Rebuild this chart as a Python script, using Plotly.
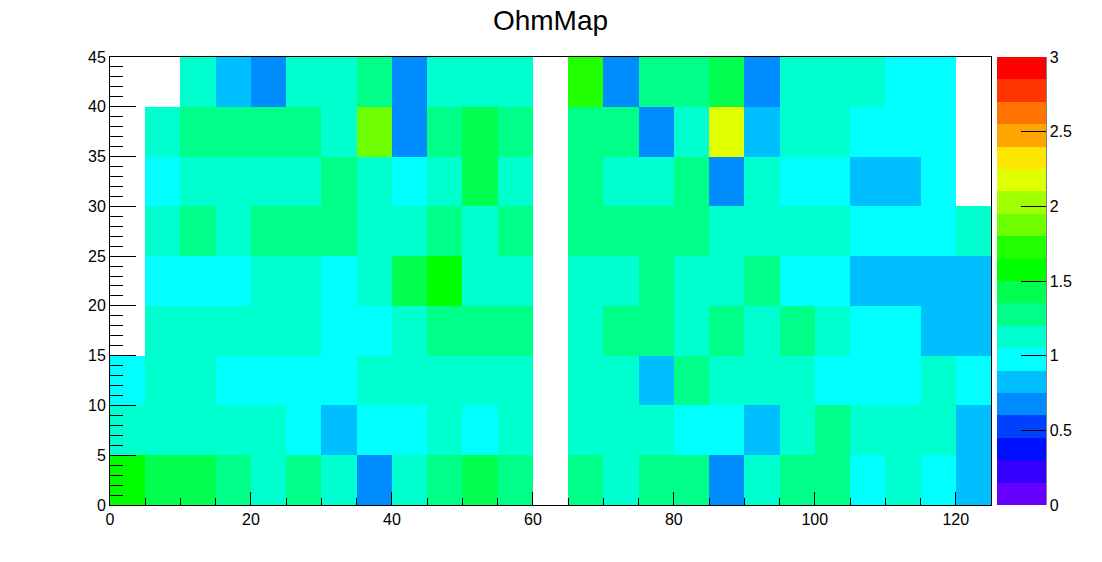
import plotly.graph_objects as go

# ---- data ----
x_centers = [2.5 + 5 * i for i in range(25)]
y_centers = [2.5 + 5 * j for j in range(9)]

N = None
# resistance values per bin, rows from y=0-5 (bottom) to y=40-45 (top)
row_00_05 = [1.57, 1.42, 1.42, 1.27, 1.12, 1.27, 1.12, 0.68, 1.12, 1.27, 1.42, 1.27, N, 1.27, 1.12, 1.27, 1.27, 0.68, 1.12, 1.27, 1.27, 0.98, 1.12, 0.98, 0.83]
row_05_10 = [1.12, 1.12, 1.12, 1.12, 1.12, 0.98, 0.83, 0.98, 0.98, 1.12, 0.98, 1.12, N, 1.12, 1.12, 1.12, 0.98, 0.98, 0.83, 1.12, 1.27, 1.12, 1.12, 1.12, 0.83]
row_10_15 = [0.98, 1.12, 1.12, 0.98, 0.98, 0.98, 0.98, 1.12, 1.12, 1.12, 1.12, 1.12, N, 1.12, 1.12, 0.83, 1.27, 1.12, 1.12, 1.12, 0.98, 0.98, 0.98, 1.12, 0.98]
row_15_20 = [N, 1.12, 1.12, 1.12, 1.12, 1.12, 0.98, 0.98, 1.12, 1.27, 1.27, 1.27, N, 1.12, 1.27, 1.27, 1.12, 1.27, 1.12, 1.27, 1.12, 0.98, 0.98, 0.83, 0.83]
row_20_25 = [N, 0.98, 0.98, 0.98, 1.12, 1.12, 0.98, 1.12, 1.42, 1.57, 1.12, 1.12, N, 1.12, 1.12, 1.27, 1.12, 1.12, 1.27, 0.98, 0.98, 0.83, 0.83, 0.83, 0.83]
row_25_30 = [N, 1.12, 1.27, 1.12, 1.27, 1.27, 1.27, 1.12, 1.12, 1.27, 1.12, 1.27, N, 1.27, 1.27, 1.27, 1.27, 1.12, 1.12, 1.12, 1.12, 0.98, 0.98, 0.98, 1.12]
row_30_35 = [N, 0.98, 1.12, 1.12, 1.12, 1.12, 1.27, 1.12, 0.98, 1.12, 1.42, 1.12, N, 1.27, 1.12, 1.12, 1.27, 0.68, 1.12, 0.98, 0.98, 0.83, 0.83, 0.98, N]
row_35_40 = [N, 1.12, 1.27, 1.27, 1.27, 1.27, 1.12, 1.87, 0.68, 1.27, 1.42, 1.27, N, 1.27, 1.27, 0.68, 1.12, 2.18, 0.83, 1.12, 1.12, 0.98, 0.98, 0.98, N]
row_40_45 = [N, N, 1.12, 0.83, 0.68, 1.12, 1.12, 1.27, 0.68, 1.12, 1.12, 1.12, N, 1.72, 0.68, 1.27, 1.27, 1.42, 0.68, 1.12, 1.12, 1.12, 0.98, 0.98, N]

z_rows = [row_00_05, row_05_10, row_10_15, row_15_20, row_20_25,
          row_25_30, row_30_35, row_35_40, row_40_45]

cbar_tickvals = [0, 0.5, 1, 1.5, 2, 2.5, 3]
cbar_ticktext = ["0", "0.5", "1", "1.5", "2", "2.5", "3"]

palette = ["#6600ff", "#3300ff", "#0010ff", "#0040ff", "#008cff",
           "#00bfff", "#00ffff", "#00ffcf", "#00ff88", "#00ff4f",
           "#00ff00", "#22ff00", "#70ff00", "#a0ff00", "#e0ff00",
           "#ffe600", "#ffa500", "#ff7300", "#ff3300", "#ff0000"]

# ---- figure ----
n = len(palette)
colorscale = []
for i, c in enumerate(palette):
    colorscale.append([i / n, c])
    colorscale.append([(i + 1) / n, c])

W, H = 1102, 562
L, T = 110, 57
R = W - 991
B = H - 505
pw = W - L - R

FONT = "Liberation Sans, Arial, Helvetica, sans-serif"

fig = go.Figure(go.Heatmap(
    x=x_centers, y=y_centers, z=z_rows,
    zmin=0, zmax=3, colorscale=colorscale,
    hoverongaps=False,
    colorbar=dict(
        x=(997 - L) / pw, xanchor="left", xpad=0,
        y=0.5, yanchor="middle", len=1, lenmode="fraction", ypad=0,
        thickness=49, outlinewidth=0,
        tickmode="array", tickvals=cbar_tickvals, ticktext=cbar_ticktext,
        ticks="inside", ticklen=25, tickwidth=1, tickcolor="black",
        tickfont=dict(family=FONT, size=16, color="black"),
    ),
))

fig.add_shape(type="line", xref="paper", yref="paper",
              x0=(1046 - L) / pw, x1=(1046 - L) / pw, y0=0, y1=1,
              line=dict(color="black", width=1))

fig.update_layout(
    width=W, height=H,
    margin=dict(l=L, r=R, t=T, b=B, autoexpand=False),
    paper_bgcolor="white", plot_bgcolor="white",
    title=dict(text="OhmMap", x=0.5, xref="paper", xanchor="center",
               y=1 - 20 / H, yref="container", yanchor="middle",
               font=dict(family=FONT, size=28, color="black")),
    font=dict(family=FONT, color="black"),
)

fig.update_xaxes(
    range=[0, 125], showgrid=False, zeroline=False,
    showline=True, linecolor="black", linewidth=1, mirror=True,
    tickmode="linear", tick0=0, dtick=20,
    ticks="inside", ticklen=13, tickcolor="black",
    minor=dict(dtick=5, tick0=0, ticks="inside", ticklen=7, tickcolor="black", showgrid=False),
    tickfont=dict(family=FONT, size=16, color="black"),
)
fig.update_yaxes(
    range=[0, 45], showgrid=False, zeroline=False,
    showline=True, linecolor="black", linewidth=1, mirror=True,
    tickmode="linear", tick0=0, dtick=5,
    ticks="inside", ticklen=26, tickcolor="black",
    minor=dict(dtick=1, tick0=0, ticks="inside", ticklen=13, tickcolor="black", showgrid=False),
    tickfont=dict(family=FONT, size=16, color="black"),
)

fig.write_html("out.html",
               config={"displayModeBar": False},
               post_script="document.body.style.margin='0';document.body.style.overflow='hidden';")
